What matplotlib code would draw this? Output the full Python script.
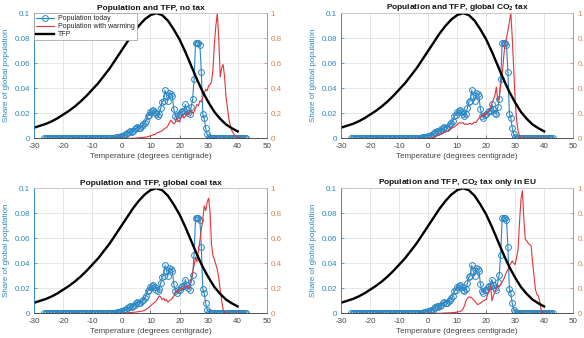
import numpy as np
import matplotlib
matplotlib.use("Agg")
import matplotlib.pyplot as plt
from matplotlib.ticker import FixedLocator, FuncFormatter

plt.rcParams["font.family"] = ["Liberation Sans", "DejaVu Sans"]
plt.rcParams["axes.unicode_minus"] = False
plt.rcParams["mathtext.fontset"] = "custom"
plt.rcParams["mathtext.rm"] = "Liberation Sans:bold"
plt.rcParams["mathtext.it"] = "Liberation Sans:bold"
plt.rcParams["mathtext.bf"] = "Liberation Sans:bold"

# ---- data ----------------------------------------------------------------
titles = [
    "Population and TFP, no tax",
    "Population and TFP, global CO$_2$ tax",
    "Population and TFP, global coal tax",
    "Population and TFP, CO$_2$ tax only in EU",
]

# population today: 0.5-degree bins from -26.5 to 43
pop_today_start = -26.5
pop_today = (
    [0.0] * 47
    + [0.0003, 0.0005, 0.0006, 0.0008, 0.001, 0.0012,
       0.0015, 0.002, 0.0025, 0.003, 0.004, 0.005, 0.0055, 0.005, 0.006, 0.007,
       0.008, 0.009, 0.0085, 0.008, 0.0095, 0.011, 0.012, 0.014, 0.018, 0.0185,
       0.021, 0.022, 0.0225, 0.021, 0.019, 0.018, 0.0195, 0.024, 0.029, 0.030,
       0.0385, 0.034, 0.030, 0.0365, 0.0355, 0.034, 0.0235, 0.018, 0.0165, 0.0185,
       0.019, 0.021, 0.0215, 0.022, 0.027, 0.023, 0.0205, 0.019, 0.025, 0.031,
       0.047, 0.0762, 0.0765, 0.0762, 0.0748, 0.053, 0.0195, 0.016, 0.008, 0.003,
       0.001]
    + [0.0] * 26
)

# population with warming: 0.5-degree bins from 0 to 42, one series per scenario
warm_start = 0.0
warm_no_tax = [
    0, 0, 0, 0, 0, 0, 0, 0, 0, 0,
    0.002, 0.003, 0.004, 0.005, 0.006, 0.007, 0.008, 0.01, 0.012, 0.015,
    0.02, 0.022, 0.03, 0.028, 0.04, 0.045, 0.05, 0.055, 0.06, 0.07,
    0.08, 0.085, 0.1, 0.125, 0.145, 0.13, 0.115, 0.125, 0.16, 0.14,
    0.13, 0.165, 0.185, 0.16, 0.175, 0.2, 0.19, 0.215, 0.225, 0.2,
    0.21, 0.24, 0.27, 0.26, 0.3, 0.29, 0.33, 0.36, 0.39, 0.38,
    0.42, 0.43, 0.45, 0.55, 0.76, 0.9, 1.0, 0.79, 0.49, 0.56,
    0.59, 0.49, 0.33, 0.24, 0.15, 0.1, 0.06, 0.04, 0.025, 0.015,
    0.005, 0, 0, 0, 0,
]
warm_co2_tax = [
    0, 0, 0, 0.003, 0.008, 0.012, 0.018, 0.024, 0.03, 0.035,
    0.04, 0.045, 0.05, 0.055, 0.06, 0.07, 0.08, 0.085, 0.09, 0.1,
    0.11, 0.12, 0.125, 0.12, 0.125, 0.11, 0.115, 0.11, 0.115, 0.12,
    0.11, 0.12, 0.13, 0.125, 0.145, 0.16, 0.17, 0.185, 0.175, 0.2,
    0.19, 0.21, 0.22, 0.25, 0.28, 0.31, 0.34, 0.41, 0.3, 0.33,
    0.42, 0.5, 0.64, 0.76, 0.8, 0.86, 0.93, 1.0, 0.8, 0.55,
    0.3, 0.15, 0.06, 0.02, 0, 0, 0, 0, 0, 0,
    0, 0, 0, 0, 0, 0, 0, 0, 0, 0,
    0, 0, 0, 0, 0,
]
warm_coal_tax = [
    0, 0, 0.002, 0.003, 0.004, 0.005, 0.006, 0.007, 0.008, 0.009,
    0.01, 0.012, 0.014, 0.016, 0.018, 0.02, 0.025, 0.03, 0.04, 0.05,
    0.06, 0.07, 0.08, 0.09, 0.1, 0.12, 0.14, 0.13, 0.11, 0.12,
    0.1, 0.11, 0.09, 0.1, 0.11, 0.12, 0.14, 0.16, 0.18, 0.17,
    0.19, 0.2, 0.19, 0.21, 0.22, 0.21, 0.2, 0.24, 0.27, 0.33,
    0.38, 0.45, 0.41, 0.5, 0.58, 0.67, 0.75, 0.86, 0.82, 0.89,
    0.92, 0.81, 0.55, 0.46, 0.43, 0.39, 0.35, 0.28, 0.19, 0.1,
    0.03, 0, 0, 0, 0, 0, 0, 0, 0, 0,
    0, 0, 0, 0, 0,
]
warm_co2_eu = [
    0, 0, 0, 0, 0, 0, 0, 0, 0, 0,
    0.002, 0.002, 0.003, 0.003, 0.004, 0.004, 0.005, 0.006, 0.007, 0.008,
    0.01, 0.012, 0.015, 0.02, 0.035, 0.06, 0.1, 0.12, 0.13, 0.13,
    0.125, 0.11, 0.1, 0.085, 0.07, 0.075, 0.08, 0.09, 0.1, 0.105,
    0.11, 0.15, 0.18, 0.22, 0.1, 0.14, 0.17, 0.2, 0.22, 0.21,
    0.23, 0.25, 0.27, 0.3, 0.33, 0.35, 0.38, 0.4, 0.42, 0.4,
    0.39, 0.45, 0.51, 0.73, 0.91, 0.98, 0.75, 0.59, 0.58, 0.56,
    0.55, 0.54, 0.41, 0.3, 0.19, 0.15, 0.14, 0.09, 0.02, 0.005,
    0, 0, 0, 0, 0,
]
warming_series = [warm_no_tax, warm_co2_tax, warm_coal_tax, warm_co2_eu]

# TFP relative to its peak, every 2 degrees from -30 to 40
tfp_temps = list(range(-30, 41, 2))
tfp = [0.085, 0.10, 0.115, 0.135, 0.16, 0.19, 0.22, 0.255, 0.295, 0.34,
       0.39, 0.44, 0.50, 0.56, 0.63, 0.70, 0.77, 0.84, 0.90, 0.95,
       0.985, 1.0, 0.985, 0.94, 0.87, 0.79, 0.69, 0.58, 0.47, 0.37,
       0.285, 0.21, 0.155, 0.11, 0.08, 0.055]

x_ticks = [-30, -20, -10, 0, 10, 20, 30, 40, 50]
left_ticks = [0, 0.02, 0.04, 0.06, 0.08, 0.1]
right_ticks = [0, 0.2, 0.4, 0.6, 0.8, 1.0]

# ---- styling ---------------------------------------------------------------
BLUE = "#2a86c4"
ORANGE = "#d9824f"
RED = "#e3343b"
DARK = "#454545"
GRID = "#e2e2e2"
FS = 5.8

pop_temps = pop_today_start + 0.5 * np.arange(len(pop_today))
warm_temps = warm_start + 0.5 * np.arange(len(warm_no_tax))

fig = plt.figure(figsize=(5.84, 3.38), dpi=100)
fig.patch.set_facecolor("white")

positions = [
    [0.0587, 0.591, 0.398, 0.370],
    [0.5844, 0.591, 0.397, 0.370],
    [0.0587, 0.073, 0.398, 0.370],
    [0.5844, 0.073, 0.397, 0.370],
]

fmt = FuncFormatter(lambda v, p: "%g" % round(v, 4))

for i, pos in enumerate(positions):
    ax = fig.add_axes(pos)
    ax2 = ax.twinx()

    l1, = ax.plot(pop_temps, pop_today, "-o", color=BLUE, lw=0.8,
                  ms=4.2, mfc="none", mew=0.7, label="Population today")
    l2, = ax2.plot(warm_temps, warming_series[i], "-", color=RED, lw=0.8,
                   label="Population with warming")
    l3, = ax2.plot(tfp_temps, tfp, "-", color="black", lw=1.7, label="TFP")

    ax.set_xlim(-30, 50)
    ax.set_ylim(0, 0.1)
    ax2.set_ylim(0, 1)

    ax.xaxis.set_major_locator(FixedLocator(x_ticks))
    ax.yaxis.set_major_locator(FixedLocator(left_ticks))
    ax2.yaxis.set_major_locator(FixedLocator(right_ticks))
    ax.xaxis.set_major_formatter(fmt)
    ax.yaxis.set_major_formatter(fmt)
    ax2.yaxis.set_major_formatter(fmt)

    ax.grid(True, color=GRID, lw=0.6)
    ax.set_axisbelow(True)

    ax.tick_params(axis="x", direction="in", length=2, width=0.5,
                   labelsize=FS, colors=DARK, pad=3.5, top=False)
    ax.tick_params(axis="y", direction="in", length=2, width=0.5,
                   labelsize=FS, colors=BLUE, pad=3)
    ax2.tick_params(axis="y", direction="in", length=2, width=0.5,
                    labelsize=FS, colors=ORANGE, pad=3)

    for a in (ax, ax2):
        a.spines["top"].set_color("#c8c8c8")
        a.spines["bottom"].set_color(DARK)
        a.spines["left"].set_color(BLUE)
        a.spines["right"].set_color(ORANGE)
        for s in a.spines.values():
            s.set_linewidth(0.5)

    ax.set_xlabel("Temperature (degrees centigrade)", fontsize=FS,
                  color=DARK, labelpad=2)
    ax.set_ylabel("Share of global population", fontsize=FS,
                  color=BLUE, labelpad=3)
    ax.set_title(titles[i], fontsize=FS + 0.2, fontweight="bold",
                 color="#111111", pad=2.5)

    if i == 0:
        leg = ax2.legend(handles=[l1, l2, l3], loc="upper left",
                         bbox_to_anchor=(0.0, 1.0), fontsize=FS - 0.8,
                         frameon=True, fancybox=False, framealpha=1,
                         edgecolor="#9a9a9a", borderpad=0.3,
                         labelspacing=0.15, handlelength=2.6,
                         handletextpad=0.5, borderaxespad=0.0)
        leg.get_frame().set_linewidth(0.5)
        for t in leg.get_texts():
            t.set_color("#222222")

fig.savefig("out.png", dpi=100, facecolor="white")
